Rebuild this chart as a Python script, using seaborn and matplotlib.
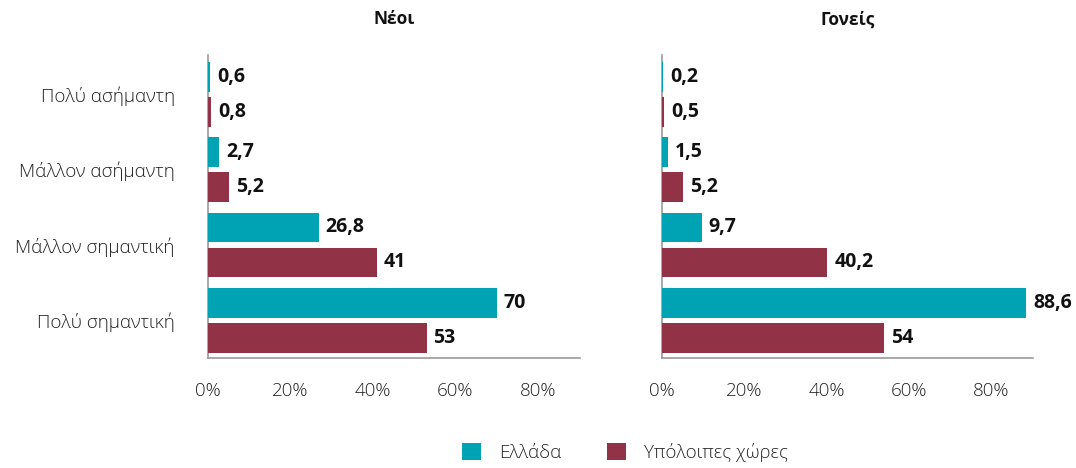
import matplotlib
matplotlib.use("Agg")
import matplotlib.pyplot as plt
from matplotlib.patches import Patch
import seaborn as sns
import pandas as pd

# Survey answers: how important, shown per respondent group
categories = ["Πολύ ασήμαντη", "Μάλλον ασήμαντη", "Μάλλον σημαντική", "Πολύ σημαντική"]
series_names = ["Ελλάδα", "Υπόλοιπες χώρες"]
panel_titles = ["Νέοι", "Γονείς"]

youth_greece = [0.6, 2.7, 26.8, 70]
youth_other = [0.8, 5.2, 41, 53]
parents_greece = [0.2, 1.5, 9.7, 88.6]
parents_other = [0.5, 5.2, 40.2, 54]

x_ticks = [0, 20, 40, 60, 80]
x_tick_labels = ["0%", "20%", "40%", "60%", "80%"]

colors = ["#00A3B4", "#923246"]
axis_grey = "#9a9a9a"

sns.set_theme(style="white")
plt.rcParams["font.family"] = ["Open Sans", "DejaVu Sans"]


def long_frame(greece, other):
    rows = []
    for cat, g, o in zip(categories, greece, other):
        rows.append({"cat": cat, "series": series_names[0], "value": g})
        rows.append({"cat": cat, "series": series_names[1], "value": o})
    return pd.DataFrame(rows)


panels = [
    (panel_titles[0], long_frame(youth_greece, youth_other)),
    (panel_titles[1], long_frame(parents_greece, parents_other)),
]

fig = plt.figure(figsize=(10.76, 4.68), dpi=100)
W, H = 1076, 468
axes_px = [(208, 55, 580, 358), (662, 55, 1033, 358)]

for i, ((title, df), (x0, y0, x1, y1)) in enumerate(zip(panels, axes_px)):
    ax = fig.add_axes([x0 / W, 1 - y1 / H, (x1 - x0) / W, (y1 - y0) / H])
    sns.barplot(
        data=df, y="cat", x="value", hue="series", order=categories,
        hue_order=series_names, palette=colors, orient="h",
        width=0.93, gap=0.15, saturation=1, legend=False, ax=ax,
        linewidth=0,
    )
    # keep the thin bars visible above the axis line
    for patch in ax.patches:
        patch.set_zorder(3)
    for cont in ax.containers:
        ax.bar_label(
            cont, fmt=lambda v: f"{v:g}".replace(".", ","), padding=5,
            fontsize=14, fontweight="bold", color="#111111",
        )
    ax.set_xlim(0, 90.2)
    ax.set_ylim(3.5, -0.52)
    ax.set_xlabel("")
    ax.set_ylabel("")
    ax.set_xticks(x_ticks)
    ax.set_xticklabels(x_tick_labels, fontsize=13.5, color="#222222", fontweight="light")
    ax.tick_params(axis="x", direction="in", length=6, width=1, color=axis_grey, pad=17)
    ax.set_yticks(range(len(categories)))
    if i == 0:
        ax.set_yticklabels(categories, fontsize=13.5, color="#222222", fontweight="light")
    else:
        ax.set_yticklabels([])
    ax.tick_params(axis="y", which="major", length=0, pad=24)
    ax.set_yticks([-0.52, 0.5, 1.5, 2.5, 3.5], minor=True)
    ax.tick_params(axis="y", which="minor", direction="in", length=4, width=1, color=axis_grey)
    for side in ["top", "right"]:
        ax.spines[side].set_visible(False)
    for side in ["left", "bottom"]:
        ax.spines[side].set_color(axis_grey)
        ax.spines[side].set_linewidth(1.2)
    ax.set_title(title, fontsize=12.5, fontweight="bold", pad=22, color="#111111")

handles = [Patch(facecolor=c, edgecolor="none") for c in colors]
fig.legend(
    handles, series_names, loc="center", bbox_to_anchor=(0.581, 0.034), ncol=2,
    frameon=False, handlelength=1.0, handleheight=1.0,
    columnspacing=2.4, handletextpad=1.0,
    prop={"size": 13.5, "weight": "light"},
)

fig.savefig("out.png", dpi=100)
